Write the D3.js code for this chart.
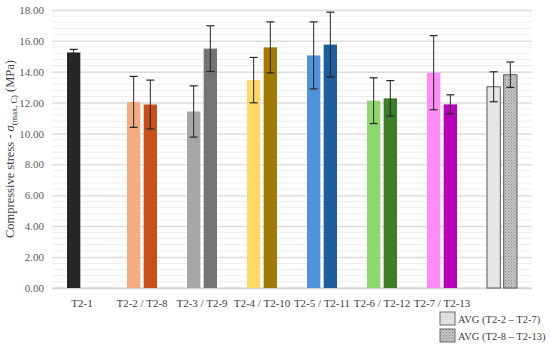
<!DOCTYPE html>
<html>
<head>
<meta charset="utf-8">
<script src="https://cdn.jsdelivr.net/npm/d3@7"></script>
<style>
  body { margin: 0; background: #fff; }
  svg { display: block; font-family: "Liberation Serif", "DejaVu Serif", serif; }
</style>
</head>
<body>
<svg width="550" height="346"></svg>
<script>
// groups along the x axis
var groups = ["T2-1", "T2-2 / T2-8", "T2-3 / T2-9", "T2-4 / T2-10", "T2-5 / T2-11", "T2-6 / T2-12", "T2-7 / T2-13", "AVG"];
var groupLabels = ["T2-1", "T2-2 / T2-8", "T2-3 / T2-9", "T2-4 / T2-10", "T2-5 / T2-11", "T2-6 / T2-12", "T2-7 / T2-13", ""];

// first bar of each group (T2-1 ... T2-7, AVG T2-2–T2-7)
var firstVals = [15.25, 12.05, 11.43, 13.46, 15.06, 12.13, 13.94, 13.03];
var firstErr  = [0.20, 1.65, 1.66, 1.47, 2.17, 1.48, 2.40, 0.97];
var firstCols = ["#262626", "#f4ac84", "#a6a6a6", "#ffd868", "#4e93dc", "#8fd670", "#ff8cf4", "#e6e6e6"];

// second bar of each group (T2-8 ... T2-13, AVG T2-8–T2-13)
var secondVals = [null, 11.88, 15.50, 15.58, 15.76, 12.28, 11.89, 13.81];
var secondErr  = [null, 1.58, 1.48, 1.65, 2.10, 1.15, 0.62, 0.82];
var secondCols = [null, "#c5501a", "#747474", "#a17905", "#1f5c9b", "#3b7d29", "#b800b8", "url(#dots)"];

var yTicks = [0, 2, 4, 6, 8, 10, 12, 14, 16, 18];
var legendLabels = ["AVG (T2-2 \u2013 T2-7)", "AVG (T2-8 \u2013 T2-13)"];

var svg = d3.select("svg");
var margin = {top: 10, right: 18, bottom: 58, left: 52};
var width = 550 - margin.left - margin.right,
    height = 346 - margin.top - margin.bottom;

var defs = svg.append("defs");
var pat = defs.append("pattern")
    .attr("id", "dots")
    .attr("width", 3).attr("height", 3)
    .attr("patternUnits", "userSpaceOnUse");
pat.append("rect").attr("width", 3).attr("height", 3).attr("fill", "#c4c4c4");
pat.append("rect").attr("x", 0).attr("y", 0).attr("width", 1).attr("height", 1).attr("fill", "#8a8a8a");
pat.append("rect").attr("x", 1.5).attr("y", 1.5).attr("width", 1).attr("height", 1).attr("fill", "#9a9a9a");

var g = svg.append("g")
    .attr("transform", "translate(" + margin.left + "," + margin.top + ")");

var x = d3.scaleBand().domain(groups).range([0, width]).padding(0);
var xi = d3.scaleBand().domain([0, 1])
    .range([x.bandwidth() * 0.25, x.bandwidth() * 0.75])
    .paddingInner(0.2).paddingOuter(0);
var y = d3.scaleLinear().domain([0, 18]).range([height, 0]);

// minor grid every 0.4
var minor = d3.range(0, 18.01, 0.4);
g.selectAll(".minor")
    .data(minor)
    .enter().append("line")
    .attr("class", "minor")
    .attr("x1", 0).attr("x2", width)
    .attr("y1", function(d) { return y(d); })
    .attr("y2", function(d) { return y(d); })
    .attr("stroke", "#eeeeee")
    .attr("stroke-width", 1);

// major grid + tick labels
g.append("g")
    .attr("class", "y axis")
    .call(d3.axisLeft(y).tickValues(yTicks).tickSize(-width).tickPadding(8)
        .tickFormat(function(d) { return d3.format(".2f")(d); }))
    .call(function(a) {
        a.attr("font-family", "Liberation Serif").attr("font-size", 11);
        a.select(".domain").remove();
        a.selectAll(".tick line").attr("stroke", "#dcdcdc").attr("stroke-width", 1.3);
        a.selectAll(".tick text").attr("fill", "#595959");
    });

g.append("line")
    .attr("x1", 0).attr("x2", width)
    .attr("y1", y(0)).attr("y2", y(0))
    .attr("stroke", "#d0d0d0");

// category labels
g.append("g")
    .attr("class", "x axis")
    .attr("transform", "translate(0," + height + ")")
    .call(d3.axisBottom(x).tickSize(0).tickPadding(11)
        .tickFormat(function(d, i) { return groupLabels[i]; }))
    .call(function(a) {
        a.attr("font-family", "Liberation Serif").attr("font-size", 11);
        a.select(".domain").remove();
        a.selectAll(".tick text").attr("fill", "#404040");
    });

function bars(vals, errs, cols, k) {
    var data = groups.map(function(gr, i) {
        return {group: gr, v: vals[i], e: errs[i], c: cols[i], i: i};
    }).filter(function(d) { return d.v != null; });

    var sel = g.selectAll(".bar" + k).data(data).enter();

    sel.append("rect")
        .attr("class", "bar" + k)
        .attr("x", function(d) { return x(d.group) + xi(k); })
        .attr("width", xi.bandwidth())
        .attr("y", function(d) { return y(d.v); })
        .attr("height", function(d) { return y(0) - y(d.v); })
        .attr("fill", function(d) { return d.c; })
        .attr("stroke", function(d) { return d.group === "AVG" ? "#5a5a5a" : "none"; })
        .attr("stroke-width", 1);

    var cx = function(d) { return x(d.group) + xi(k) + xi.bandwidth() / 2; };

    sel.append("line")
        .attr("x1", cx).attr("x2", cx)
        .attr("y1", function(d) { return y(d.v + d.e); })
        .attr("y2", function(d) { return y(d.v - d.e); })
        .attr("stroke", "#262626").attr("stroke-width", 1);
    [1, -1].forEach(function(s) {
        sel.append("line")
            .attr("x1", function(d) { return cx(d) - 4; })
            .attr("x2", function(d) { return cx(d) + 4; })
            .attr("y1", function(d) { return y(d.v + s * d.e); })
            .attr("y2", function(d) { return y(d.v + s * d.e); })
            .attr("stroke", "#262626").attr("stroke-width", 1.2);
    });
}
bars(firstVals, firstErr, firstCols, 0);
bars(secondVals, secondErr, secondCols, 1);

// y axis title
svg.append("text")
    .attr("transform", "translate(14," + (margin.top + height / 2) + ") rotate(-90)")
    .attr("text-anchor", "middle")
    .attr("fill", "#404040")
    .attr("font-family", "Liberation Serif")
    .attr("font-size", 12.5)
    .html("Compressive stress - <tspan font-style='italic'>\u03C3</tspan><tspan font-size='8.5' dy='3'>(max, C)</tspan><tspan dy='-3'> (MPa)</tspan>");

// legend
var legend = svg.append("g").attr("transform", "translate(440,312)");
var lg = legend.selectAll(".leg").data(legendLabels).enter().append("g")
    .attr("transform", function(d, i) { return "translate(0," + i * 17 + ")"; });
lg.append("rect")
    .attr("width", 15).attr("height", 13)
    .attr("fill", function(d, i) { return i === 0 ? "#e0e0e0" : "url(#dots)"; })
    .attr("stroke", "#6a6a6a");
lg.append("text")
    .attr("x", 18).attr("y", 11)
    .attr("fill", "#404040")
    .attr("font-family", "Liberation Serif")
    .attr("font-size", 10.5)
    .text(function(d) { return d; });
</script>
</body>
</html>
